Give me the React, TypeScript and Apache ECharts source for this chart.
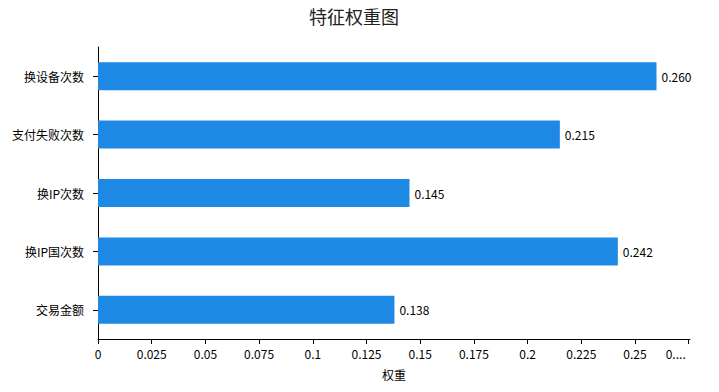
import React, { useEffect, useRef } from "react";
import * as echarts from "echarts";

const categories = ["交易金额", "换IP国次数", "换IP次数", "支付失败次数", "换设备次数"];
const weights = [0.138, 0.242, 0.145, 0.215, 0.26];
const titleText = "特征权重图";
const axisName = "权重";
const truncatedMaxLabel = "0....";

export default function App() {
  const ref = useRef<HTMLDivElement>(null);
  useEffect(() => {
    if (!ref.current) return;
    const chart = echarts.init(ref.current, null, { renderer: "svg" });
    const font = '"Noto Sans CJK SC", "Noto Sans", sans-serif';
    const maxVal = Math.max(...weights) * 1.06;
    chart.setOption({
      animation: false,
      textStyle: { fontFamily: font },
      title: {
        text: titleText,
        left: 304,
        top: 2,
        textStyle: { fontSize: 18, fontWeight: "normal", color: "#222", fontFamily: font },
      },
      grid: { left: 98, right: 29, top: 47, bottom: 53, containLabel: false },
      xAxis: {
        type: "value",
        min: 0,
        max: maxVal,
        interval: 0.025,
        name: axisName,
        nameLocation: "middle",
        nameGap: 29,
        nameTextStyle: { color: "#000", fontSize: 12, fontFamily: font },
        axisLine: { show: true, lineStyle: { color: "#000" } },
        axisTick: { show: true, length: 5, lineStyle: { color: "#000" } },
        axisLabel: {
          color: "#000",
          fontSize: 12,
          margin: 8,
          fontFamily: font,
          formatter: (v: number) => (v > 0.2625 ? "{t|" + truncatedMaxLabel + "}" : String(v)),
          rich: {
            t: { color: "#000", fontSize: 12, fontFamily: font, padding: [0, 26, 0, 0] },
          },
        },
        splitLine: { show: false },
      },
      yAxis: {
        type: "category",
        data: categories,
        axisLine: { show: true, lineStyle: { color: "#000" } },
        axisTick: { show: true, alignWithLabel: true, length: 5, lineStyle: { color: "#000" } },
        axisLabel: { color: "#000", fontSize: 12, margin: 14, fontFamily: font },
      },
      series: [
        {
          type: "bar",
          data: weights,
          barWidth: 28,
          itemStyle: { color: "#1E88E5" },
          label: {
            show: true,
            position: "right",
            distance: 5,
            color: "#000",
            fontSize: 12,
            fontFamily: font,
            formatter: (p: any) => Number(p.value).toFixed(3),
          },
        },
      ],
    });
    return () => chart.dispose();
  }, []);
  return <div ref={ref} style={{ width: 719, height: 392, position: "absolute", left: 0, top: 0 }} />;
}
